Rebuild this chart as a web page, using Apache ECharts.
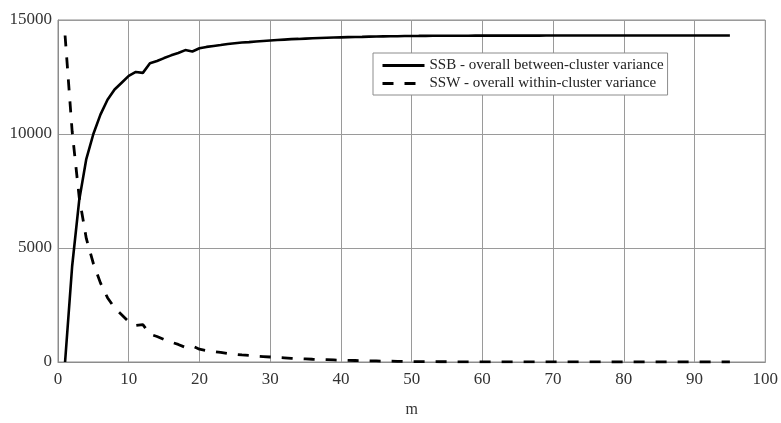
<!DOCTYPE html>
<html>
<head>
<meta charset="utf-8">
<script src="https://cdn.jsdelivr.net/npm/echarts@6/dist/echarts.min.js"></script>
<style>
html,body{margin:0;padding:0;background:#fff;}
#chart{width:781px;height:423px;}
</style>
</head>
<body>
<div id="chart"></div>
<script>
const mValues = Array.from({length: 95}, (_, i) => i + 1);
const ssb = [
  0, 4200, 7100, 8900, 10000, 10850, 11500, 11950, 12250, 12550,
  12720, 12680, 13100, 13200, 13330, 13450, 13550, 13680, 13620, 13760,
  13820, 13860, 13900, 13950, 13980, 14010, 14030, 14060, 14080, 14100,
  14120, 14140, 14160, 14170, 14185, 14200, 14210, 14220, 14230, 14240,
  14250, 14255, 14262, 14270, 14275, 14280, 14285, 14290, 14295, 14300,
  14302, 14305, 14307, 14309, 14310, 14311, 14312, 14312, 14313, 14313,
  14314, 14314, 14315, 14315, 14315, 14316, 14316, 14316, 14317, 14317,
  14317, 14317, 14318, 14318, 14318, 14318, 14318, 14319, 14319, 14319,
  14319, 14319, 14319, 14320, 14320, 14320, 14320, 14320, 14320, 14320,
  14320, 14320, 14320, 14320, 14320
];
const ssw = [
  14320, 10120, 7220, 5420, 4320, 3470, 2820, 2370, 2070, 1770,
  1600, 1640, 1220, 1120, 990, 870, 770, 640, 700, 560,
  500, 460, 420, 370, 340, 310, 290, 260, 240, 220,
  200, 180, 160, 150, 135, 120, 110, 100, 90, 80,
  70, 65, 58, 50, 45, 40, 35, 30, 25, 20,
  18, 15, 13, 11, 10, 9, 8, 8, 7, 7,
  6, 6, 5, 5, 5, 4, 4, 4, 3, 3,
  3, 3, 2, 2, 2, 2, 2, 1, 1, 1,
  1, 1, 1, 0, 0, 0, 0, 0, 0, 0,
  0, 0, 0, 0, 0
];
const xTicks = [0, 10, 20, 30, 40, 50, 60, 70, 80, 90, 100];
const yTicks = [0, 5000, 10000, 15000];
const seriesNames = ['SSB - overall between-cluster variance', 'SSW - overall within-cluster variance'];

const font = "'Liberation Serif', 'Times New Roman', serif";
const chart = echarts.init(document.getElementById('chart'), null, {renderer: 'canvas'});
chart.setOption({
  animation: false,
  backgroundColor: '#fff',
  textStyle: {fontFamily: font},
  grid: {left: 58, right: 13, top: 20, bottom: 43, show: true, borderColor: '#8c8c8c', borderWidth: 1, backgroundColor: 'transparent'},
  legend: {
    left: 373, top: 53, orient: 'vertical',
    backgroundColor: '#fff', borderColor: '#8c8c8c', borderWidth: 1,
    padding: [5, 4, 4, 8], itemGap: 3, itemWidth: 42, itemHeight: 14,
    itemStyle: {color: 'rgba(0,0,0,0)', borderColor: 'rgba(0,0,0,0)', borderWidth: 0},
    lineStyle: {width: 3},
    textStyle: {fontFamily: font, fontSize: 15, color: '#222'},
    data: seriesNames
  },
  xAxis: {
    type: 'value', min: xTicks[0], max: xTicks[xTicks.length - 1], interval: 10,
    name: 'm', nameLocation: 'middle', nameGap: 40,
    nameTextStyle: {fontFamily: font, fontSize: 16, color: '#333'},
    axisLine: {show: true, lineStyle: {color: '#8c8c8c', width: 1}},
    axisTick: {show: false},
    axisLabel: {fontFamily: font, fontSize: 17, color: '#333', margin: 9},
    splitLine: {show: true, lineStyle: {color: '#9a9a9a', width: 1}}
  },
  yAxis: {
    type: 'value', min: yTicks[0], max: yTicks[yTicks.length - 1], interval: 5000,
    axisLine: {show: true, lineStyle: {color: '#8c8c8c', width: 1}},
    axisTick: {show: false},
    axisLabel: {fontFamily: font, fontSize: 17, color: '#333', margin: 6, formatter: v => String(v)},
    splitLine: {show: true, lineStyle: {color: '#9a9a9a', width: 1}}
  },
  series: [
    {
      name: seriesNames[0], type: 'line', symbol: 'none', showSymbol: false,
      data: mValues.map((m, i) => [m, ssb[i]]),
      lineStyle: {color: '#000', width: 2.6, type: 'solid'},
      itemStyle: {color: '#000'}
    },
    {
      name: seriesNames[1], type: 'line', symbol: 'none', showSymbol: false,
      data: mValues.map((m, i) => [m, ssw[i]]),
      lineStyle: {color: '#000', width: 2.8, type: [11, 11]},
      itemStyle: {color: '#000'}
    }
  ]
});
</script>
</body>
</html>
